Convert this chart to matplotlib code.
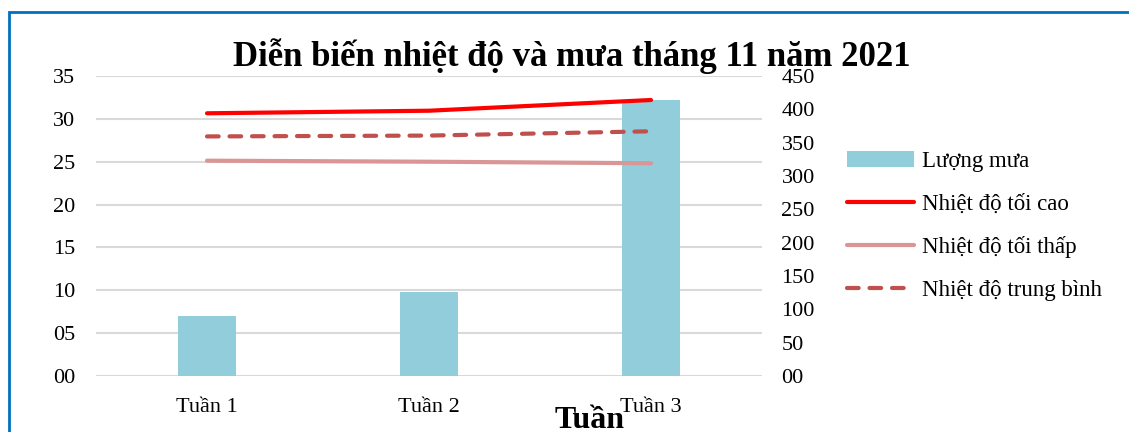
import matplotlib
matplotlib.use("Agg")
import matplotlib.pyplot as plt
from matplotlib.patches import Rectangle, Patch
from matplotlib.lines import Line2D
from matplotlib.ticker import FuncFormatter, MultipleLocator

weeks = ["Tuần 1", "Tuần 2", "Tuần 3"]
rain = [90, 126, 414]
t_max = [30.65, 30.95, 32.2]
t_min = [25.12, 25.0, 24.82]
t_avg = [27.95, 28.05, 28.55]

title = "Diễn biến nhiệt độ và mưa tháng 11 năm 2021"
xlabel = "Tuần"
labels = ["Lượng mưa", "Nhiệt độ tối cao", "Nhiệt độ tối thấp", "Nhiệt độ trung bình"]

plt.rcParams['font.family'] = ['Liberation Serif', 'DejaVu Serif']

W, H = 1129, 432
fig = plt.figure(figsize=(W / 100, H / 100), dpi=100)
left, right, bottom, top = 96 / W, 762 / W, 1 - 376 / H, 1 - 76 / H
ax = fig.add_axes([left, bottom, right - left, top - bottom])
ax2 = ax.twinx()
ax3 = ax.twinx()

x = list(range(len(weeks)))

# temperature axis with grid (bottom layer)
ax.set_ylim(0, 35)
ax.set_xlim(-0.5, 2.5)
ax.yaxis.set_major_locator(MultipleLocator(5))
ax.yaxis.set_major_formatter(FuncFormatter(lambda v, p: "%02d" % v))
ax.grid(axis='y', color='#D9D9D9', linewidth=1.5)
ax.set_xticks(x)
ax.set_xticklabels(weeks)
ax.tick_params(axis='both', length=0, labelsize=16)
ax.tick_params(axis='y', pad=15)
ax.tick_params(axis='x', pad=16)
for s in ax.spines.values():
    s.set_visible(False)

# rain axis (bars)
ax2.bar(x, rain, width=0.257, color='#92CDDC', zorder=2)
ax2.set_ylim(0, 450)
ax2.yaxis.set_major_locator(MultipleLocator(50))
ax2.yaxis.set_major_formatter(FuncFormatter(lambda v, p: "%02d" % v))
ax2.tick_params(axis='y', length=0, labelsize=16, pad=14)
for s in ax2.spines.values():
    s.set_visible(False)

# lines axis on top, same scale as temperature
ax3.set_ylim(0, 35)
ax3.set_yticks([])
for s in ax3.spines.values():
    s.set_visible(False)
lw = 3
ax3.plot(x, t_max, color='#FF0000', lw=lw, solid_capstyle='round')
ax3.plot(x, t_min, color='#D99694', lw=lw, solid_capstyle='round')
ax3.plot(x, t_avg, color='#C0504D', lw=lw, dash_capstyle='round',
         dashes=(2.8, 2.6))

# title and x label
fig.text(572 / W, 1 - 66 / H, title, ha='center', va='baseline',
         fontsize=25, fontweight='bold')
fig.text(590 / W, 1 - 428 / H, xlabel, ha='center', va='baseline',
         fontsize=23, fontweight='bold')

# legend
handles = [
    Patch(facecolor='#92CDDC', edgecolor='none'),
    Line2D([], [], color='#FF0000', lw=lw, solid_capstyle='round'),
    Line2D([], [], color='#D99694', lw=lw, solid_capstyle='round'),
    Line2D([], [], color='#C0504D', lw=lw, dash_capstyle='round', dashes=(2.8, 2.6)),
]
fig.legend(handles, labels, loc='center left',
           bbox_to_anchor=(838 / W, 1 - 226 / H), frameon=False,
           fontsize=16.5, handlelength=2.9, handleheight=0.7,
           handletextpad=0.35, labelspacing=0.95, borderaxespad=0)

# blue border
fig.patches.append(Rectangle((8.5 / W, -0.1), 1.2, (1 - 12 / H) + 0.1,
                             transform=fig.transFigure, fill=False,
                             edgecolor='#0070C0', linewidth=2))

fig.savefig("out.png", dpi=100)
